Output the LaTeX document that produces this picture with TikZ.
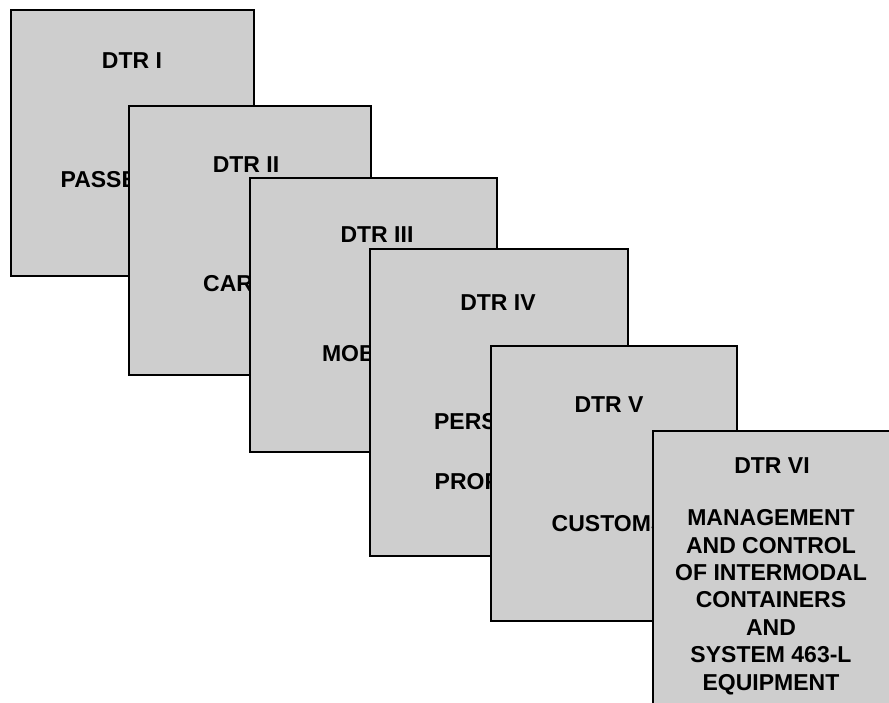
\documentclass[tikz,border=0pt]{standalone}
\usepackage{fontspec}
\setmainfont{Liberation Sans}
\definecolor{boxgray}{RGB}{206,206,206}
\begin{document}
\begin{tikzpicture}[x=1pt,y=-1pt,
  card/.style={draw=black,fill=boxgray,line width=2.5pt,inner sep=0pt},
  lbl/.style={anchor=base,inner sep=0pt,font=\fontsize{23}{27.4}\selectfont\bfseries}]
\useasboundingbox (0,0) rectangle (889,702);
\clip (0,0) rectangle (889,702);
% card 1
\node[card,minimum width=243pt,minimum height=266pt] (b1) at (132.5,143) {};
\node[lbl] (t1) at (132,68) {DTR I};
\node[lbl] (s1) at (132,187) {PASSENGER};
% card 2
\node[card,minimum width=242pt,minimum height=269pt] (b2) at (250,240.5) {};
\node[lbl] (t2) at (246,172.7) {DTR II};
\node[lbl] (s2) at (246,291.7) {CARGO};
% card 3
\node[card,minimum width=247pt,minimum height=274pt] (b3) at (373.5,315) {};
\node[lbl] (t3) at (377,242.7) {DTR III};
\node[lbl] (s3) at (377,361.7) {MOBILITY};
% card 4
\node[card,minimum width=258pt,minimum height=307pt] (b4) at (499,402.5) {};
\node[lbl] (t4) at (498,310) {DTR IV};
\node[lbl] (s4) at (498,429.3) {PERSONAL};
\node[lbl] (p4) at (498,489.3) {PROPERTY};
% card 5
\node[card,minimum width=246pt,minimum height=275pt] (b5) at (614,483.5) {};
\node[lbl] (t5) at (609,412.7) {DTR V};
\node[lbl] (s5) at (609,531.7) {CUSTOMS};
% card 6 (runs off the page)
\node[card,minimum width=250pt,minimum height=300pt] (b6) at (778,581) {};
\node[lbl] (t6) at (772,473.3) {DTR VI};
\node[lbl] (l1) at (771,525.7) {MANAGEMENT};
\node[lbl] (l2) at (771,553.1) {AND CONTROL};
\node[lbl] (l3) at (771,580.5) {OF INTERMODAL};
\node[lbl] (l4) at (771,607.9) {CONTAINERS};
\node[lbl] (l5) at (771,635.3) {AND};
\node[lbl] (l6) at (771,662.7) {SYSTEM 463-L};
\node[lbl] (l7) at (771,690.1) {EQUIPMENT};
\end{tikzpicture}
\end{document}
